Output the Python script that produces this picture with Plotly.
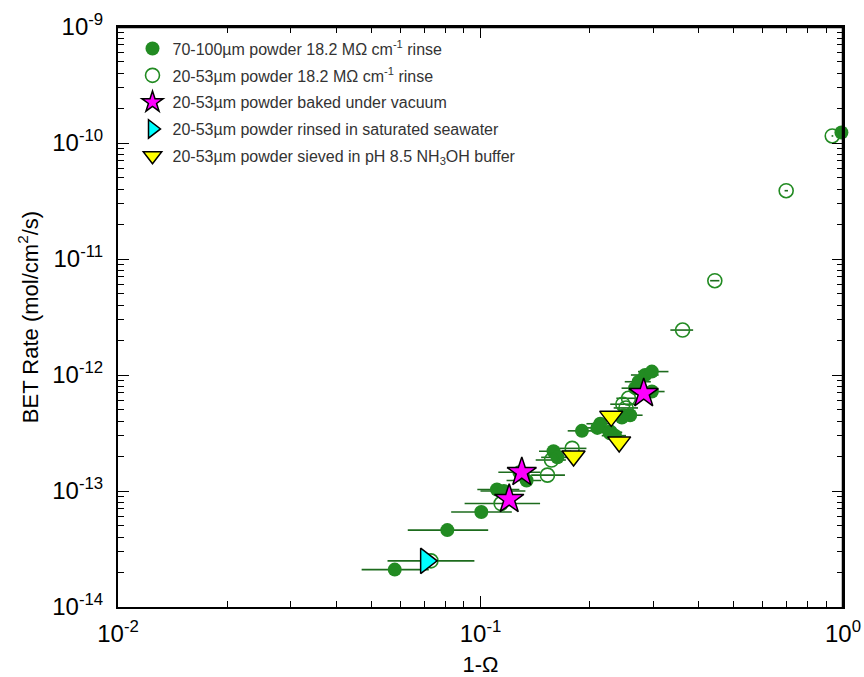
import plotly.graph_objects as go

# ---- data ----
f_x  = [0.058, 0.081, 0.1005, 0.111, 0.116, 0.134, 0.128, 0.159, 0.163, 0.1905, 0.214, 0.210, 0.228, 0.235, 0.248, 0.2587, 0.2455, 0.267, 0.273, 0.2845, 0.297, 0.297, 0.99]
f_y  = [2.1e-14, 4.6e-14, 6.6e-14, 1.03e-13, 1.0e-13, 1.23e-13, 1.45e-13, 2.2e-13, 1.95e-13, 3.3e-13, 3.8e-13, 3.5e-13, 3.2e-13, 3.0e-13, 4.5e-13, 4.5e-13, 4.3e-13, 7.7e-13, 8.75e-13, 1.0e-12, 1.07e-12, 7.2e-13, 1.23e-10]
f_lo = [0.047, 0.063, 0.083, 0.098, 0.100, 0.118, 0.112, 0.145, 0.147, 0.174, 0.196, 0.192, 0.210, 0.216, 0.228, 0.238, 0.226, 0.245, 0.250, 0.260, 0.272, 0.272, 0.98]
f_hi = [0.072, 0.105, 0.122, 0.128, 0.133, 0.147, 0.146, 0.178, 0.175, 0.205, 0.232, 0.228, 0.245, 0.252, 0.268, 0.280, 0.265, 0.290, 0.295, 0.310, 0.330, 0.322, 1.0]

o_x  = [0.073, 0.114, 0.153, 0.157, 0.179, 0.228, 0.247, 0.256, 0.252, 0.361, 0.443, 0.697, 0.934]
o_y  = [2.5e-14, 7.8e-14, 1.37e-13, 1.85e-13, 2.33e-13, 3.2e-13, 5.6e-13, 6.3e-13, 5.2e-13, 2.44e-12, 6.5e-12, 3.88e-11, 1.15e-10]
o_lo = [0.0554, 0.0904, 0.138, 0.142, 0.163, 0.210, 0.228, 0.237, 0.233, 0.334, 0.430, 0.690, 0.930]
o_hi = [0.0962, 0.146, 0.171, 0.172, 0.196, 0.246, 0.267, 0.276, 0.272, 0.386, 0.456, 0.705, 0.940]

s_x = [0.282, 0.130, 0.120]
s_y = [6.95e-13, 1.45e-13, 8.5e-14]

c_x = [0.0708]
c_y = [2.5e-14]

t_x = [0.1806, 0.2294, 0.2413]
t_y = [2.0e-13, 4.4e-13, 2.65e-13]

names = [
    "70-100µm powder 18.2 MΩ cm<sup>-1</sup> rinse",
    "20-53µm powder 18.2 MΩ cm<sup>-1</sup> rinse",
    "20-53µm powder baked under vacuum",
    "20-53µm powder rinsed in saturated seawater",
    "20-53µm powder sieved in pH 8.5 NH<sub>3</sub>OH buffer",
]

x_tickvals = [0.01, 0.1, 1]
x_ticktext = ["10<sup>-2</sup>", "10<sup>-1</sup>", "10<sup>0</sup>"]
y_tickvals = [1e-14, 1e-13, 1e-12, 1e-11, 1e-10, 1e-9]
y_ticktext = ["10<sup>-14</sup>", "10<sup>-13</sup>", "10<sup>-12</sup>",
              "10<sup>-11</sup>", "10<sup>-10</sup>", "10<sup>-9</sup>"]
x_minor = [m * 10.0 ** e for e in (-2, -1) for m in range(2, 10)]
y_minor = [m * 10.0 ** e for e in range(-14, -9) for m in range(2, 10)]

GREEN = "#228B22"
BAR = "#1d6b1d"
FONT = "Liberation Sans, Arial, Helvetica, sans-serif"

fig = go.Figure()

fig.add_trace(go.Scatter(
    x=o_x, y=o_y, mode="markers", showlegend=False, hoverinfo="skip",
    marker=dict(size=1, color="rgba(0,0,0,0)"),
    error_x=dict(type="data", symmetric=False,
                 array=[h - x for h, x in zip(o_hi, o_x)],
                 arrayminus=[x - l for l, x in zip(o_lo, o_x)],
                 color=BAR, thickness=1.6, width=0)))
fig.add_trace(go.Scatter(
    x=f_x, y=f_y, mode="markers", showlegend=False, hoverinfo="skip",
    marker=dict(size=1, color="rgba(0,0,0,0)"),
    error_x=dict(type="data", symmetric=False,
                 array=[h - x for h, x in zip(f_hi, f_x)],
                 arrayminus=[x - l for l, x in zip(f_lo, f_x)],
                 color=BAR, thickness=1.6, width=0)))

fig.add_trace(go.Scatter(x=f_x, y=f_y, mode="markers", name=names[0], legendgroup="a",
                         cliponaxis=False,
                         marker=dict(symbol="circle", size=14, color=GREEN)))
fig.add_trace(go.Scatter(x=o_x, y=o_y, mode="markers", name=names[1], legendgroup="b",
                         cliponaxis=False,
                         marker=dict(symbol="circle-open", size=14, color=GREEN,
                                     line=dict(width=1.6, color=GREEN))))
fig.add_trace(go.Scatter(x=s_x, y=s_y, mode="markers", name=names[2], legendgroup="c",
                         marker=dict(symbol="star", size=22, color="#FF00FF",
                                     line=dict(width=1.5, color="black"))))
fig.add_trace(go.Scatter(x=c_x, y=c_y, mode="markers", name=names[3], legendgroup="d",
                         marker=dict(symbol="triangle-right", size=22, color="#00FFFF",
                                     line=dict(width=1.5, color="black"))))
fig.add_trace(go.Scatter(x=t_x, y=t_y, mode="markers", name=names[4], legendgroup="e",
                         marker=dict(symbol="triangle-down", size=20, color="#FFFF00",
                                     line=dict(width=1.5, color="black"))))

axis_common = dict(
    type="log", showgrid=False, zeroline=False, automargin=False,
    showline=True, linecolor="black", linewidth=2, mirror="ticks",
    ticks="inside", ticklen=11, tickwidth=1.3, tickcolor="black",
    tickfont=dict(family=FONT, size=24, color="black"),
)

fig.update_xaxes(range=[-2, 0], tickvals=x_tickvals, ticktext=x_ticktext,
                 minor=dict(tickmode="array", tickvals=x_minor, ticks="inside",
                            ticklen=6, tickwidth=1.1, tickcolor="black", showgrid=False),
                 ticklabelstandoff=4,
                 title=dict(text="1-Ω", font=dict(family=FONT, size=22, color="black"),
                            standoff=14),
                 **axis_common)
fig.update_yaxes(range=[-14, -9], tickvals=y_tickvals, ticktext=y_ticktext,
                 minor=dict(tickmode="array", tickvals=y_minor, ticks="inside",
                            ticklen=6, tickwidth=1.1, tickcolor="black", showgrid=False),
                 ticklabelstandoff=8,
                 title=dict(text="BET Rate (mol/cm<sup>2</sup>/s)",
                            font=dict(family=FONT, size=22, color="black"),
                            standoff=8),
                 **axis_common)

# explicit top and right frame edges
fig.add_shape(type="line", xref="paper", yref="paper", x0=0, y0=1, x1=1, y1=1,
              line=dict(color="black", width=2.5), layer="above")
fig.add_shape(type="line", xref="paper", yref="paper", x0=1, y0=0, x1=1, y1=1,
              line=dict(color="black", width=2.5), layer="above")

fig.update_layout(
    width=864, height=677,
    margin=dict(l=118, r=21, t=27, b=70),
    plot_bgcolor="white", paper_bgcolor="white",
    font=dict(family=FONT),
    legend=dict(x=0.020, y=0.992, xanchor="left", yanchor="top",
                bgcolor="rgba(0,0,0,0)", tracegroupgap=3,
                font=dict(size=16, color="#333333"), itemsizing="trace"),
)

fig.write_html("out.html", config={"displayModeBar": False},
               post_script="document.body.style.margin='0';document.body.style.overflow='hidden';")
